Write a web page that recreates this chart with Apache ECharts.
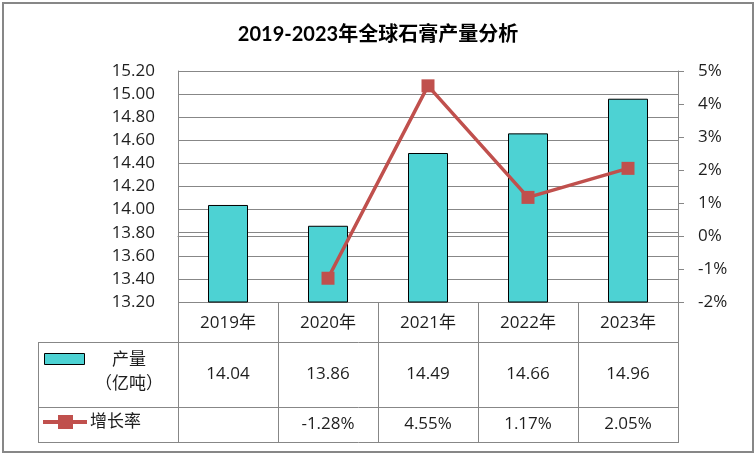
<!DOCTYPE html>
<html><head><meta charset="utf-8">
<script src="https://cdn.jsdelivr.net/npm/echarts@6/dist/echarts.min.js"></script>
<style>html,body{margin:0;padding:0;background:#fff}#c{width:756px;height:456px}</style>
</head><body><div id="c"></div>
<script>
const title = '2019-2023年全球石膏产量分析';
const categories = ['2019年','2020年','2021年','2022年','2023年'];
const production = [14.04, 13.86, 14.49, 14.66, 14.96];
const growth = [null, -1.28, 4.55, 1.17, 2.05];
const productionLabels = ['14.04','13.86','14.49','14.66','14.96'];
const growthLabels = ['', '-1.28%', '4.55%', '1.17%', '2.05%'];
const seriesNames = ['产量\n（亿吨）', '增长率'];

const TFONT = "Lato, 'Noto Sans CJK SC', sans-serif";
const FONT = "'Open Sans', 'Noto Sans CJK SC', sans-serif";
const CJK = "'Noto Sans CJK SC', sans-serif";
const GRAY = '#878787';
const TXT = '#1e1e1e';
const chart = echarts.init(document.getElementById('c'));
const grid = {left:178, right:78, top:71, bottom:154};
chart.setOption({
  animation:false,
  title:{text:title,left:'center',top:20,textStyle:{fontFamily:TFONT,fontSize:20,fontWeight:'bold',color:'#000'}},
  grid:grid,
  xAxis:{type:'category',data:categories,axisLabel:{show:false},axisTick:{show:false},
    axisLine:{lineStyle:{color:GRAY,width:1}}},
  yAxis:[
    {type:'value',min:13.2,max:15.2,interval:0.2,position:'left',
     axisLine:{show:true,lineStyle:{color:GRAY}},axisTick:{show:false},
     splitLine:{lineStyle:{color:GRAY,width:1}},
     axisLabel:{formatter:v=>v.toFixed(2),fontFamily:FONT,fontSize:17,color:TXT,margin:23}},
    {type:'value',min:-2,max:5,interval:1,position:'right',
     axisLine:{show:true,lineStyle:{color:GRAY}},axisTick:{show:true,inside:false,length:6,lineStyle:{color:GRAY}},
     splitLine:{show:false},
     axisLabel:{formatter:v=>v+'%',fontFamily:FONT,fontSize:17,color:TXT,margin:20}}
  ],
  series:[
    {type:'bar',name:'产量',data:production,barWidth:40,yAxisIndex:0,
     itemStyle:{color:'#4DD2D3',borderColor:'#000',borderWidth:1}},
    {type:'line',name:'增长率',data:growth,yAxisIndex:1,symbol:'rect',symbolSize:13,
     lineStyle:{color:'#C0504D',width:3.5},itemStyle:{color:'#C0504D'},connectNulls:false}
  ]
});

const xs = categories.map((c,i)=>chart.convertToPixel({xAxisIndex:0},i));
const band = xs.length>1 ? xs[1]-xs[0] : 100;
const plotRight = 756-grid.right, plotBottom = 456-grid.bottom;
const tableLeft = 38, row1 = plotBottom, row2 = 342, row3 = 407, row4 = 442;
const g = [];
const line = (x1,y1,x2,y2)=>g.push({type:'line',shape:{x1,y1,x2,y2},style:{stroke:GRAY,lineWidth:1},silent:true});
const text = (x,y,t,opt={})=>g.push({type:'text',x,y,style:Object.assign({text:t,fill:TXT,font:'17px '+FONT,textAlign:'center',textVerticalAlign:'middle'},opt),silent:true});
g.push({type:'rect',shape:{x:3,y:3,width:750,height:449},style:{fill:null,stroke:GRAY,lineWidth:2},silent:true});
for(let i=0;i<=categories.length;i++){const x=Math.round(xs[0]-band/2+i*band)+0.5; line(x,row1,x,row4);}
line(tableLeft+0.5,row2,tableLeft+0.5,row4);
[row2,row3,row4].forEach(y=>line(tableLeft,y+0.5,plotRight+1,y+0.5));
categories.forEach((c,i)=>{
  text(xs[i],(row1+row2)/2+1,c);
  text(xs[i],(row2+row3)/2,productionLabels[i]);
  text(xs[i],(row3+row4)/2,growthLabels[i]);
});
g.push({type:'rect',shape:{x:44.5,y:353.5,width:40,height:11},style:{fill:'#4DD2D3',stroke:'#000',lineWidth:1},silent:true});
text(129,359,seriesNames[0].split('\n')[0],{font:'17px '+CJK});
text(129,383,seriesNames[0].split('\n')[1],{font:'17px '+CJK});
g.push({type:'line',shape:{x1:43,y1:422,x2:87,y2:422},style:{stroke:'#C0504D',lineWidth:4},silent:true});
g.push({type:'rect',shape:{x:58,y:415,width:15,height:14},style:{fill:'#C0504D'},silent:true});
text(90,421,seriesNames[1],{textAlign:'left',font:'17px '+CJK});
chart.setOption({graphic:g});
</script></body></html>
